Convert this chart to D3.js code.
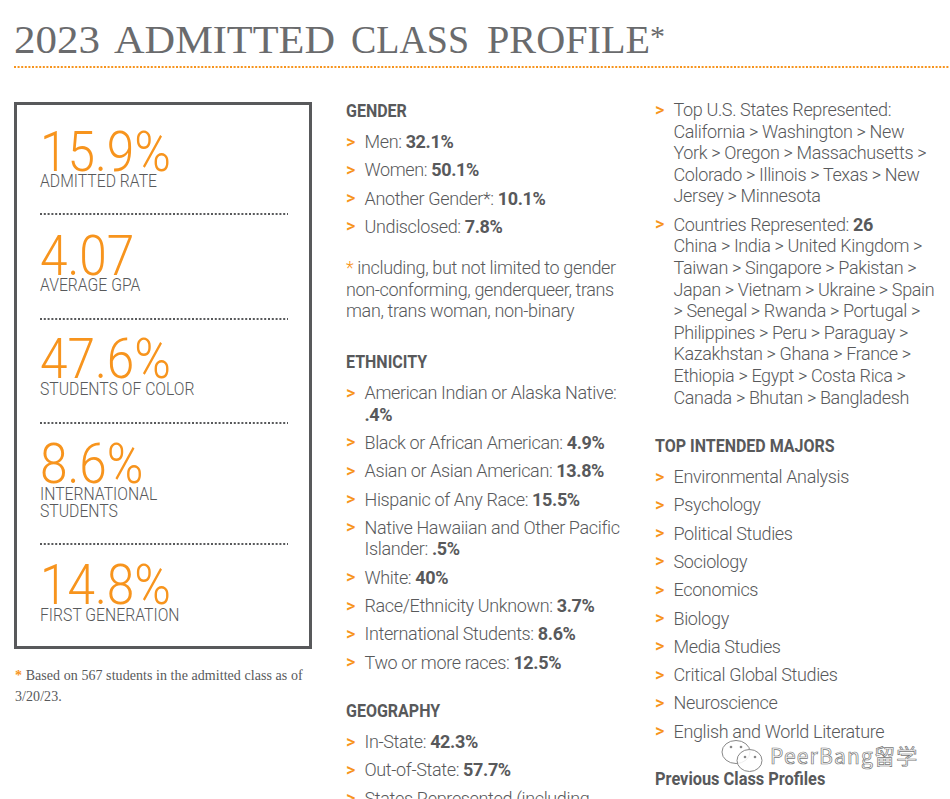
<!DOCTYPE html>
<html>
<head>
<meta charset="utf-8">
<script src="https://cdn.jsdelivr.net/npm/d3@7"></script>
<style>
  html, body { margin: 0; padding: 0; background: #fff; overflow: hidden; }
  svg { display: block; }
</style>
</head>
<body>
<div id="chart"></div>
<script>
// Values
const statValues = ["15.9%", "4.07", "47.6%", "8.6%", "14.8%"];
const statLabels = [["ADMITTED RATE"], ["AVERAGE GPA"], ["STUDENTS OF COLOR"], ["INTERNATIONAL", "STUDENTS"], ["FIRST GENERATION"]];

// each list item: array of lines, a line is [plain, bold]
const genderItems = [
  [["Men: ", "32.1%"]],
  [["Women: ", "50.1%"]],
  [["Another Gender*: ", "10.1%"]],
  [["Undisclosed: ", "7.8%"]]
];
const genderNote = ["including, but not limited to gender", "non-conforming, genderqueer, trans", "man, trans woman, non-binary"];
const ethnicityItems = [
  [["American Indian or Alaska Native:", ""], ["", ".4%"]],
  [["Black or African American: ", "4.9%"]],
  [["Asian or Asian American: ", "13.8%"]],
  [["Hispanic of Any Race: ", "15.5%"]],
  [["Native Hawaiian and Other Pacific", ""], ["Islander: ", ".5%"]],
  [["White: ", "40%"]],
  [["Race/Ethnicity Unknown: ", "3.7%"]],
  [["International Students: ", "8.6%"]],
  [["Two or more races: ", "12.5%"]]
];
const geographyItems = [
  [["In-State: ", "42.3%"]],
  [["Out-of-State: ", "57.7%"]],
  [["States Represented (including", ""]]
];
const placeItems = [
  [["Top U.S. States Represented:", ""], ["California > Washington > New", ""], ["York > Oregon > Massachusetts >", ""],
   ["Colorado > Illinois > Texas > New", ""], ["Jersey > Minnesota", ""]],
  [["Countries Represented: ", "26"], ["China > India > United Kingdom >", ""], ["Taiwan > Singapore > Pakistan >", ""],
   ["Japan > Vietnam > Ukraine > Spain", ""], ["> Senegal > Rwanda > Portugal >", ""], ["Philippines > Peru > Paraguay >", ""],
   ["Kazakhstan > Ghana > France >", ""], ["Ethiopia > Egypt > Costa Rica >", ""], ["Canada > Bhutan > Bangladesh", ""]]
];
const majors = ["Environmental Analysis", "Psychology", "Political Studies", "Sociology", "Economics", "Biology",
  "Media Studies", "Critical Global Studies", "Neuroscience", "English and World Literature"];
const titleWords = ["2023", "ADMITTED", "CLASS", "PROFILE"];

const orange = "#f7941d", grey = "#58595b";
const svg = d3.select("#chart").append("svg").attr("width", 950).attr("height", 799);

// Title, each word fitted to the span it takes in the reference
const titleStart = [14, 114, 351, 487], titleWidth = [86, 221, 118, 163];
svg.selectAll(".title-word").data(titleWords).join("text").attr("class", "title-word")
  .attr("x", (d, i) => titleStart[i]).attr("y", 53)
  .attr("textLength", (d, i) => titleWidth[i]).attr("lengthAdjust", "spacingAndGlyphs")
  .attr("font-family", "Liberation Serif").attr("font-size", 41).attr("fill", "#6a6b6d").text(d => d);
svg.append("text").attr("x", 650).attr("y", 46)
  .attr("font-family", "Liberation Serif").attr("font-size", 30).attr("fill", "#6a6b6d").text("*");
svg.append("line").attr("x1", 14).attr("x2", 950).attr("y1", 67).attr("y2", 67)
  .attr("stroke", orange).attr("stroke-width", 2).attr("stroke-dasharray", "2 1.6");

// Stat box
svg.append("rect").attr("x", 15.5).attr("y", 103.5).attr("width", 295).attr("height", 544)
  .attr("fill", "none").attr("stroke", grey).attr("stroke-width", 3);

const numberBase = [171, 275, 378, 483, 604];
const labelBase = [187, 291, 395, 500, 621];
const stats = svg.selectAll(".stat").data(statValues).join("g").attr("class", "stat");
stats.append("text").attr("transform", (d, i) => `translate(40,${numberBase[i]}) scale(0.885,1)`)
  .attr("font-family", "Roboto").attr("font-weight", 300).attr("font-size", 56)
  .attr("fill", orange).text(d => d);
stats.each(function(d, i) {
  d3.select(this).selectAll(".lab").data(statLabels[i]).join("text").attr("class", "lab")
    .attr("transform", (l, j) => `translate(40,${labelBase[i] + j * 17}) scale(0.875,1)`)
    .attr("font-family", "Roboto").attr("font-weight", 300).attr("font-size", 18)
    .attr("fill", grey).text(l => l);
});
svg.selectAll(".sep").data([214, 319, 423, 544]).join("line").attr("class", "sep")
  .attr("x1", 40).attr("x2", 288).attr("y1", d => d).attr("y2", d => d)
  .attr("stroke", grey).attr("stroke-width", 2).attr("stroke-dasharray", "2 1.8");

// Footnote
const foot = svg.append("g").attr("font-family", "Liberation Serif").attr("font-size", 14)
  .attr("letter-spacing", 0.06).attr("fill", grey);
const footFirst = foot.append("text").attr("x", 15).attr("y", 680);
footFirst.append("tspan").attr("fill", orange).attr("font-weight", 700).text("* ");
footFirst.append("tspan").text("Based on 567 students in the admitted class as of");
foot.append("text").attr("x", 15).attr("y", 701).text("3/20/23.");

// Flowing text columns
const lineGap = 21.6, itemGap = 28.3, bodySpacing = -0.36;

function heading(x, y, label, squeeze = 0.89) {
  svg.append("text").attr("transform", `translate(${x},${y}) scale(${squeeze},1)`)
    .attr("font-family", "Roboto").attr("font-weight", 700).attr("font-size", 18)
    .attr("fill", grey).text(label);
}

function list(x, y, items) {
  items.forEach(lines => {
    svg.append("text").attr("x", x).attr("y", y - 0.5).attr("font-family", "Roboto").attr("font-weight", 500)
      .attr("font-size", 18).attr("fill", orange).text(">");
    lines.forEach((line, j) => {
      const t = svg.append("text").attr("x", x + 18.5).attr("y", y + j * lineGap)
        .attr("font-family", "Roboto").attr("font-size", 18).attr("letter-spacing", bodySpacing).attr("fill", grey);
      t.append("tspan").attr("font-weight", 300).text(line[0]);
      if (line[1]) t.append("tspan").attr("font-weight", 700).text(line[1]);
    });
    y += (lines.length - 1) * lineGap + itemGap;
  });
}

heading(346, 117, "GENDER");
list(346, 148, genderItems);
genderNote.forEach((line, i) => {
  const t = svg.append("text").attr("x", 346).attr("y", 274 + i * lineGap)
    .attr("font-family", "Roboto").attr("font-weight", 300).attr("font-size", 18)
    .attr("letter-spacing", bodySpacing).attr("fill", grey);
  if (i === 0) t.append("tspan").attr("fill", orange).text("* ");
  t.append("tspan").text(line);
});
heading(346, 368, "ETHNICITY");
list(346, 399, ethnicityItems);
heading(346, 717, "GEOGRAPHY");
list(346, 748, geographyItems);

list(655, 116, placeItems);
heading(655, 452, "TOP INTENDED MAJORS");
list(655, 483, majors.map(m => [[m, ""]]));
heading(655, 785, "Previous Class Profiles", 0.91);

// Watermark
const mark = svg.append("g");
mark.selectAll("ellipse").data([[736, 752, 14, 11.5], [749.5, 760.5, 12.5, 11]]).join("ellipse")
  .attr("cx", d => d[0]).attr("cy", d => d[1]).attr("rx", d => d[2]).attr("ry", d => d[3])
  .attr("fill", "#fff").attr("fill-opacity", 0.85).attr("stroke", "#888").attr("stroke-width", 1);
mark.selectAll("circle").data([[731, 747], [741, 747], [745, 757], [755, 757]]).join("circle")
  .attr("cx", d => d[0]).attr("cy", d => d[1]).attr("r", 1.3).attr("fill", "#888");
mark.append("text").attr("x", 770).attr("y", 764)
  .attr("font-family", "Noto Sans CJK SC, Roboto").attr("font-size", 21).attr("letter-spacing", 1.2)
  .attr("fill", "#fff").attr("stroke", "#777").attr("stroke-width", 0.7).text("PeerBang留学");
</script>
</body>
</html>
